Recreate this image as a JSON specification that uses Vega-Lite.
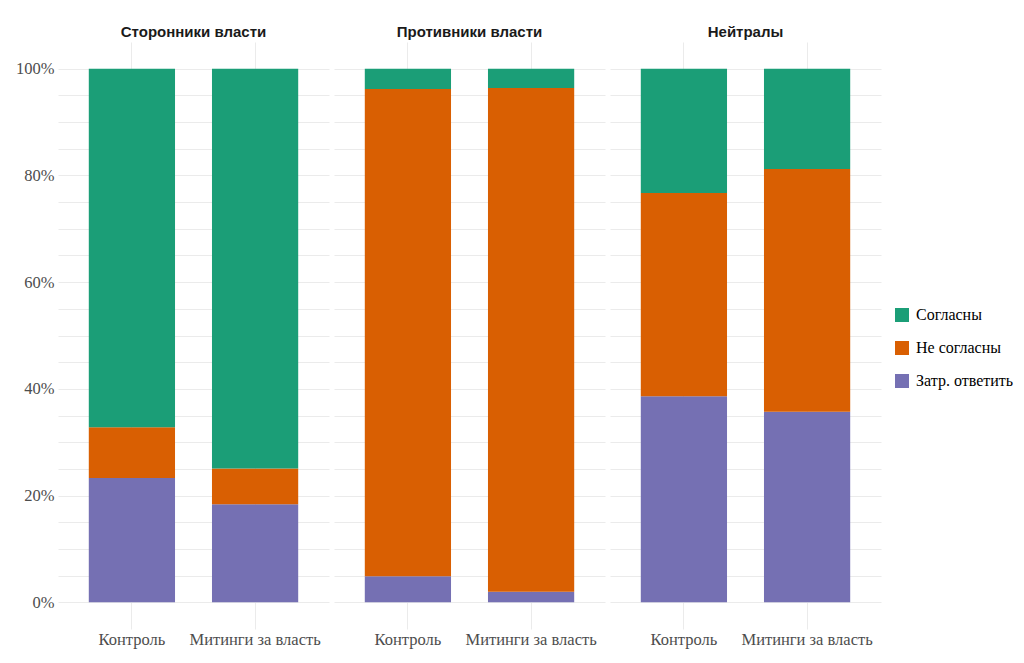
{
  "$schema": "https://vega.github.io/schema/vega-lite/v6.json",
  "padding": {"left": 15, "top": 25, "right": 5, "bottom": 5},
  "data": {
    "values": [
      {"group": "Сторонники власти", "condition": "Контроль", "response": "Затр. ответить", "share": 0.233},
      {"group": "Сторонники власти", "condition": "Контроль", "response": "Не согласны", "share": 0.095},
      {"group": "Сторонники власти", "condition": "Контроль", "response": "Согласны", "share": 0.672},
      {"group": "Сторонники власти", "condition": "Митинги за власть", "response": "Затр. ответить", "share": 0.184},
      {"group": "Сторонники власти", "condition": "Митинги за власть", "response": "Не согласны", "share": 0.067},
      {"group": "Сторонники власти", "condition": "Митинги за власть", "response": "Согласны", "share": 0.749},
      {"group": "Противники власти", "condition": "Контроль", "response": "Затр. ответить", "share": 0.049},
      {"group": "Противники власти", "condition": "Контроль", "response": "Не согласны", "share": 0.913},
      {"group": "Противники власти", "condition": "Контроль", "response": "Согласны", "share": 0.038},
      {"group": "Противники власти", "condition": "Митинги за власть", "response": "Затр. ответить", "share": 0.020},
      {"group": "Противники власти", "condition": "Митинги за власть", "response": "Не согласны", "share": 0.944},
      {"group": "Противники власти", "condition": "Митинги за власть", "response": "Согласны", "share": 0.036},
      {"group": "Нейтралы", "condition": "Контроль", "response": "Затр. ответить", "share": 0.386},
      {"group": "Нейтралы", "condition": "Контроль", "response": "Не согласны", "share": 0.381},
      {"group": "Нейтралы", "condition": "Контроль", "response": "Согласны", "share": 0.233},
      {"group": "Нейтралы", "condition": "Митинги за власть", "response": "Затр. ответить", "share": 0.357},
      {"group": "Нейтралы", "condition": "Митинги за власть", "response": "Не согласны", "share": 0.455},
      {"group": "Нейтралы", "condition": "Митинги за власть", "response": "Согласны", "share": 0.188}
    ]
  },
  "facet": {
    "column": {
      "field": "group",
      "type": "nominal",
      "sort": ["Сторонники власти", "Противники власти", "Нейтралы"],
      "header": {
        "title": null,
        "labelFont": "Liberation Sans",
        "labelFontWeight": "bold",
        "labelFontSize": 15,
        "labelColor": "#1a1a1a",
        "labelPadding": 2
      }
    }
  },
  "spacing": 5,
  "spec": {
    "width": 271,
    "height": 587,
    "mark": {"type": "bar"},
    "encoding": {
      "x": {
        "field": "condition",
        "type": "nominal",
        "sort": ["Контроль", "Митинги за власть"],
        "scale": {"paddingInner": 0.3, "paddingOuter": 0.25},
        "axis": {
          "title": null,
          "labelAngle": 0,
          "labelFont": "Times New Roman",
          "labelFontSize": 16.5,
          "labelColor": "#4d4d4d",
          "labelPadding": 2,
          "domain": false,
          "ticks": false,
          "grid": true,
          "gridColor": "#ebebeb",
          "bandPosition": 0.5
        }
      },
      "y": {
        "field": "share",
        "type": "quantitative",
        "stack": "zero",
        "scale": {"domain": [-0.05, 1.05], "nice": false, "zero": false},
        "axis": {
          "title": null,
          "values": [0, 0.05, 0.1, 0.15, 0.2, 0.25, 0.3, 0.35, 0.4, 0.45, 0.5, 0.55, 0.6, 0.65, 0.7, 0.75, 0.8, 0.85, 0.9, 0.95, 1],
          "format": ".0%",
          "labelExpr": "round(datum.value * 100) % 20 == 0 ? datum.label : ''",
          "labelFont": "Times New Roman",
          "labelFontSize": 16.5,
          "labelColor": "#4d4d4d",
          "labelPadding": 4,
          "domain": false,
          "ticks": false,
          "grid": true,
          "gridColor": "#ebebeb"
        }
      },
      "color": {
        "field": "response",
        "type": "nominal",
        "scale": {
          "domain": ["Согласны", "Не согласны", "Затр. ответить"],
          "range": ["#1b9e77", "#d95f02", "#7570b3"]
        },
        "legend": {
          "title": null,
          "orient": "none",
          "legendX": 836,
          "legendY": 265,
          "symbolType": "square",
          "symbolSize": 196,
          "symbolStrokeWidth": 0,
          "labelFont": "Times New Roman",
          "labelFontSize": 16,
          "labelColor": "#000000",
          "labelOffset": 6,
          "rowPadding": 17
        }
      },
      "order": {"field": "response", "sort": "ascending"}
    }
  },
  "config": {
    "view": {"stroke": null},
    "background": "white",
    "axis": {"labelFont": "Times New Roman"},
    "legend": {"labelFont": "Times New Roman"}
  }
}
